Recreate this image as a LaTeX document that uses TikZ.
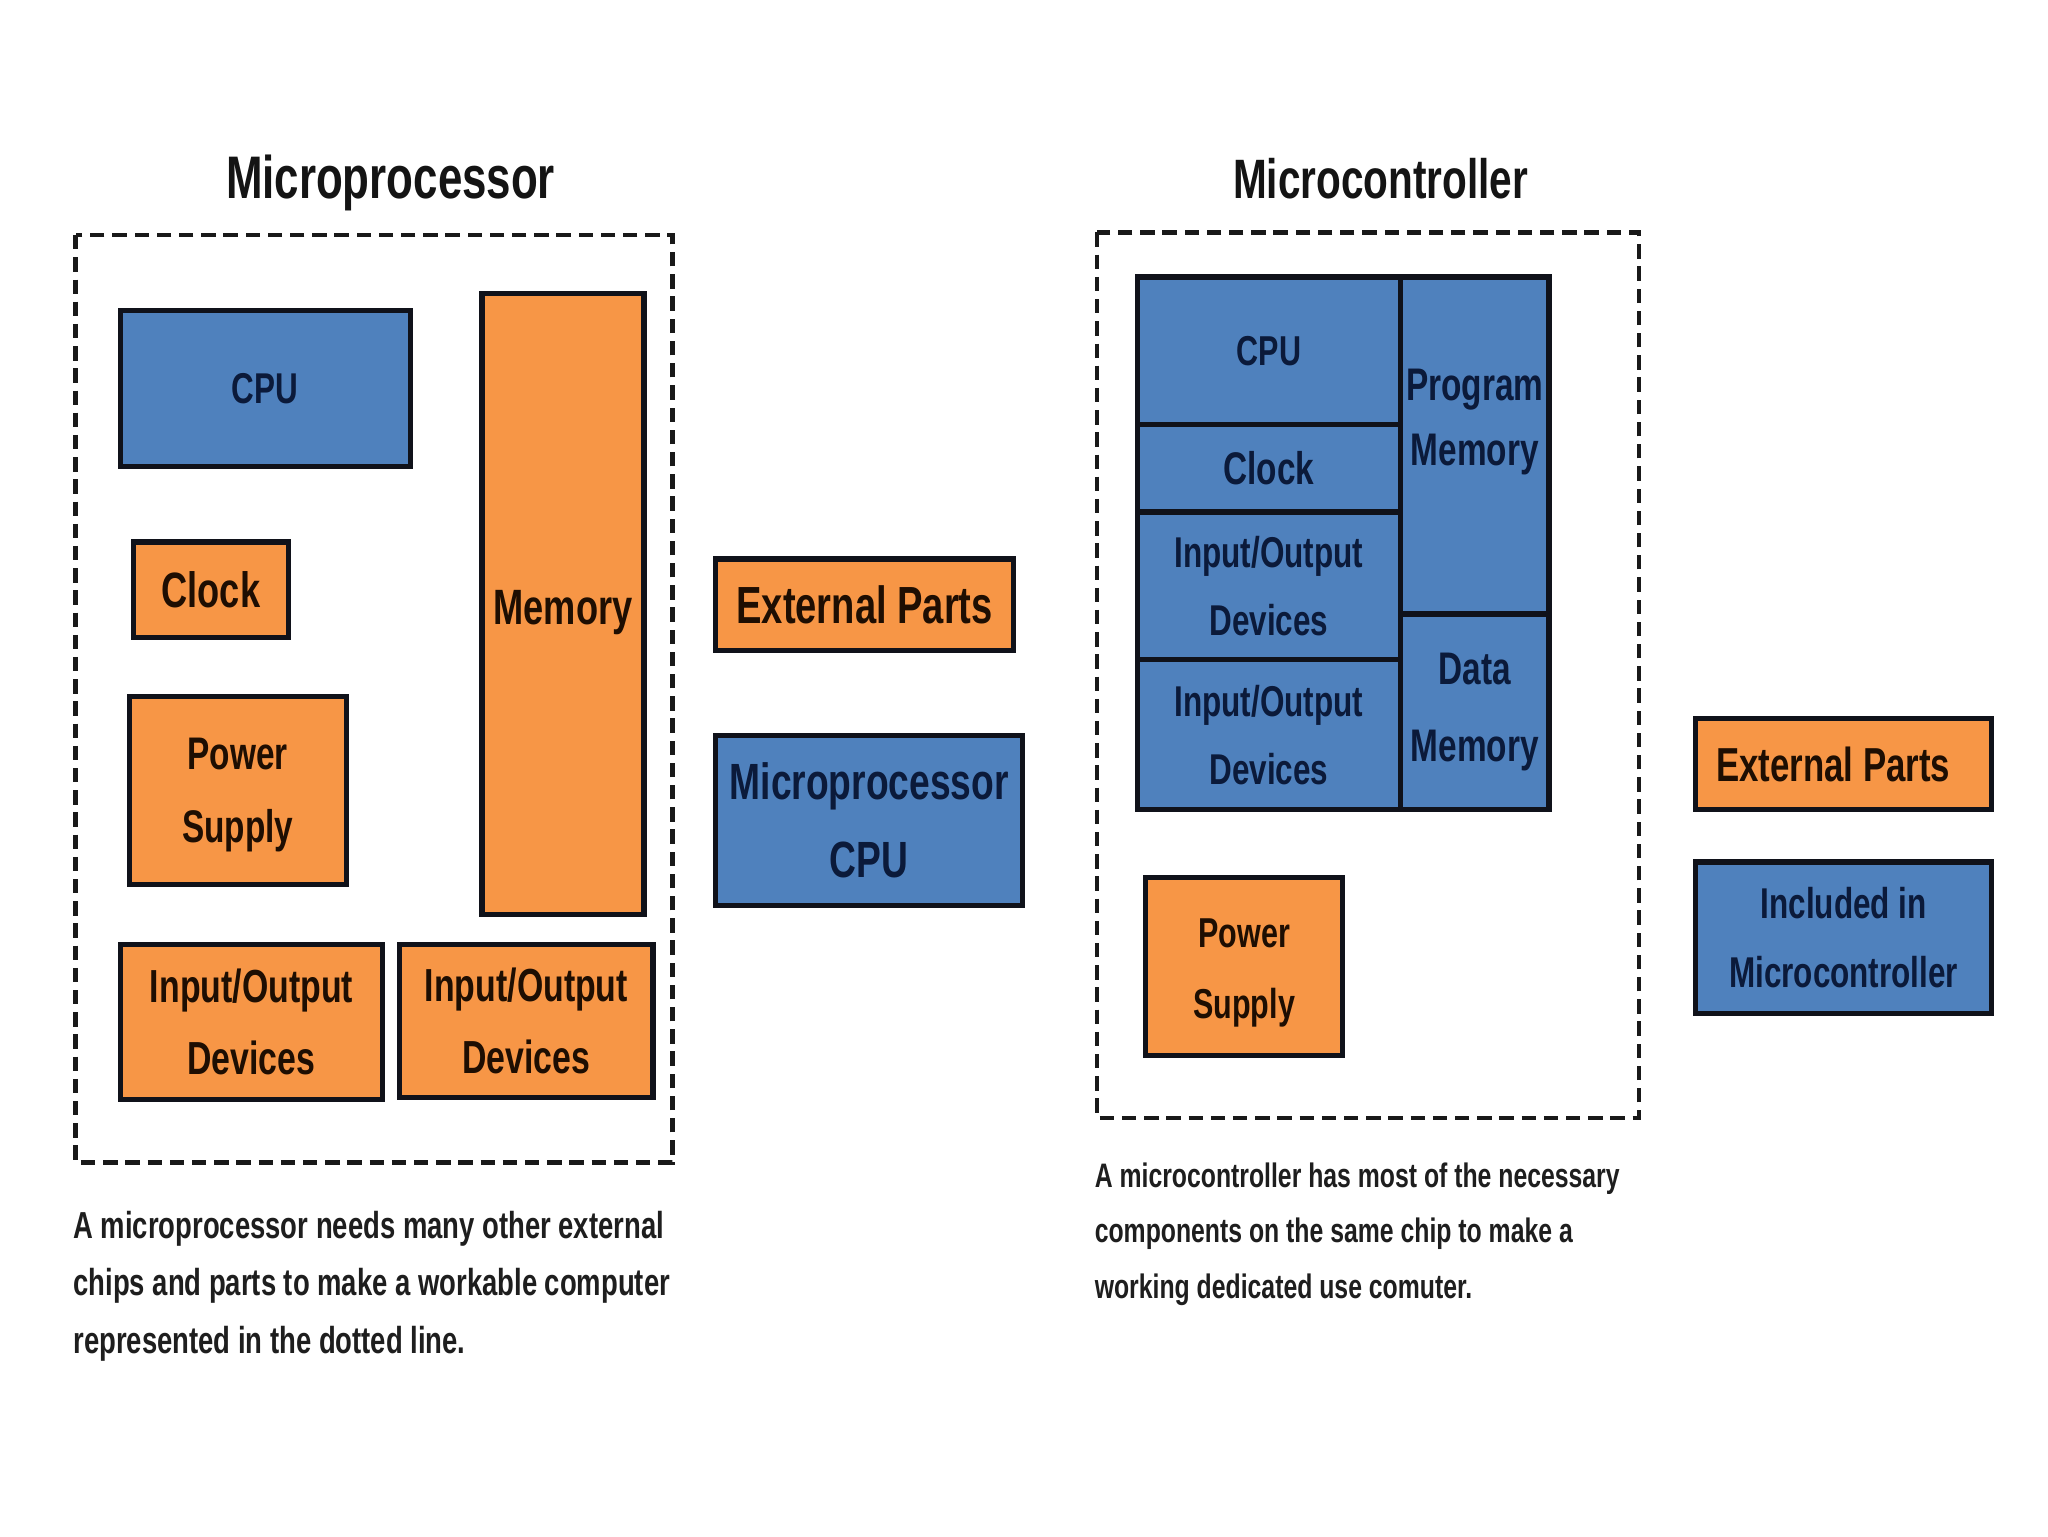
\documentclass[tikz,border=0pt]{standalone}
\usepackage{fontspec}
\setmainfont{Liberation Sans}
\newfontfamily\cond[FakeStretch=0.73]{Liberation Sans}
\definecolor{myblue}{HTML}{4F81BD}
\definecolor{myorange}{HTML}{F79646}
\definecolor{btext}{HTML}{0B1A3A}
\definecolor{otext}{HTML}{1E0E02}
\definecolor{boxline}{HTML}{10121A}
\definecolor{captext}{HTML}{1E1E1E}
\newcommand\fs[2]{\fontsize{#1}{#2}\selectfont}
\tikzset{
  box/.style={draw=boxline, line width=4pt, inner sep=0pt, align=center, font=\cond\bfseries},
  obox/.style={box, fill=myorange, text=otext},
  bbox/.style={box, fill=myblue, text=btext},
  frame/.style={draw=black!90, line width=3.5pt, dash pattern=on 11pt off 6pt},
  ttl/.style={font=\cond\bfseries\fs{46}{50}, text=black!92, anchor=base, inner sep=0pt},
  captxt/.style={font=\cond\bfseries, text=captext, anchor=base west, align=left, inner sep=0pt},
  lbl/.style={inner sep=0pt, align=center, font=\cond\bfseries}
}
\begin{document}
\begin{tikzpicture}[x=1pt,y=-1pt]
\useasboundingbox[fill=white] (0,0) rectangle (1568,1176);

% ---------- Microprocessor ----------
\node[ttl] (t1) at (299,152) {Microprocessor};
\draw[frame] (58,180) rectangle (515,890);
\node[bbox, minimum width=222pt, minimum height=119pt, font=\cond\bfseries\fs{33}{40}] (cpu1) at (203,297.5) {CPU};
\node[obox, minimum width=124pt, minimum height=475pt] (mem1) at (431,462.5) {};
\node[lbl, text=otext, font=\cond\bfseries\fs{38}{44}] (mem1lbl) at (431,469) {Memory};
\node[obox, minimum width=119pt, minimum height=73pt, font=\cond\bfseries\fs{38}{44}] (clk1) at (161.5,451.5) {Clock};
\node[obox, minimum width=166pt, minimum height=144pt] (pwr1) at (182,605) {};
\node[lbl, text=otext, font=\cond\bfseries\fs{35}{56}] (pwr1lbl) at (182,609) {Power\\Supply};
\node[obox, minimum width=201pt, minimum height=119pt, font=\cond\bfseries\fs{35.5}{55}] (io1) at (192.5,782.5) {Input/Output\\Devices};
\node[obox, minimum width=194pt, minimum height=117pt, font=\cond\bfseries\fs{35.5}{55}] (io2) at (403,781.5) {Input/Output\\Devices};
\node[captxt, font=\cond\bfseries\fs{28.8}{44}] (cap1) at (56,1036) {A microprocessor needs many other external\\chips and parts to make a workable computer\\represented in the dotted line.};

% ---------- Legend (middle) ----------
\node[obox, minimum width=228pt, minimum height=70pt, font=\cond\bfseries\fs{40}{44}] (ext1) at (662,463) {External Parts};
\node[bbox, minimum width=235pt, minimum height=130pt, font=\cond\bfseries\fs{39}{60}] (mpcpu) at (665.5,628) {Microprocessor\\CPU};

% ---------- Microcontroller ----------
\node[ttl, font=\cond\bfseries\fs{42.5}{48}] (t2) at (1057,152) {Microcontroller};
\draw[frame] (840,178) rectangle (1255,856);
\node[bbox, minimum width=201pt, minimum height=113pt, font=\cond\bfseries\fs{32}{40}] (cpu2) at (971.5,268.5) {CPU};
\node[bbox, minimum width=201pt, minimum height=67pt, font=\cond\bfseries\fs{35}{40}] (clk2) at (971.5,358.5) {Clock};
\node[bbox, minimum width=201pt, minimum height=113pt, font=\cond\bfseries\fs{33}{52}] (io3) at (971.5,448.5) {Input/Output\\Devices};
\node[bbox, minimum width=201pt, minimum height=115pt, font=\cond\bfseries\fs{33}{52}] (io4) at (971.5,562.5) {Input/Output\\Devices};
\node[bbox, minimum width=114pt, minimum height=258pt] (pm) at (1129,341) {};
\node[lbl, text=btext, font=\cond\bfseries\fs{35}{50}] (pmlbl) at (1129,323) {Program\\Memory};
\node[bbox, minimum width=114pt, minimum height=150pt] (dm) at (1129,545) {};
\node[lbl, text=btext, font=\cond\bfseries\fs{35}{59}] (dmlbl) at (1129,545) {Data\\Memory};
\node[obox, minimum width=151pt, minimum height=136pt] (pwr2) at (952.5,740) {};
\node[lbl, text=otext, font=\cond\bfseries\fs{32}{54}] (pwr2lbl) at (952.5,745) {Power\\Supply};
\node[captxt, font=\cond\bfseries\fs{26}{42.5}] (cap2) at (838,994) {A microcontroller has most of the necessary\\components on the same chip to make a\\working dedicated use comuter.};

% ---------- Legend (right) ----------
\node[obox, minimum width=227pt, minimum height=70pt] (ext2) at (1411.5,585) {};
\node[lbl, text=otext, font=\cond\bfseries\fs{36.5}{44}] (ext2lbl) at (1403.5,585) {External Parts};
\node[bbox, minimum width=227pt, minimum height=116pt, font=\cond\bfseries\fs{33}{53}] (incl) at (1411.5,718) {Included in\\Microcontroller};
\end{tikzpicture}
\end{document}
